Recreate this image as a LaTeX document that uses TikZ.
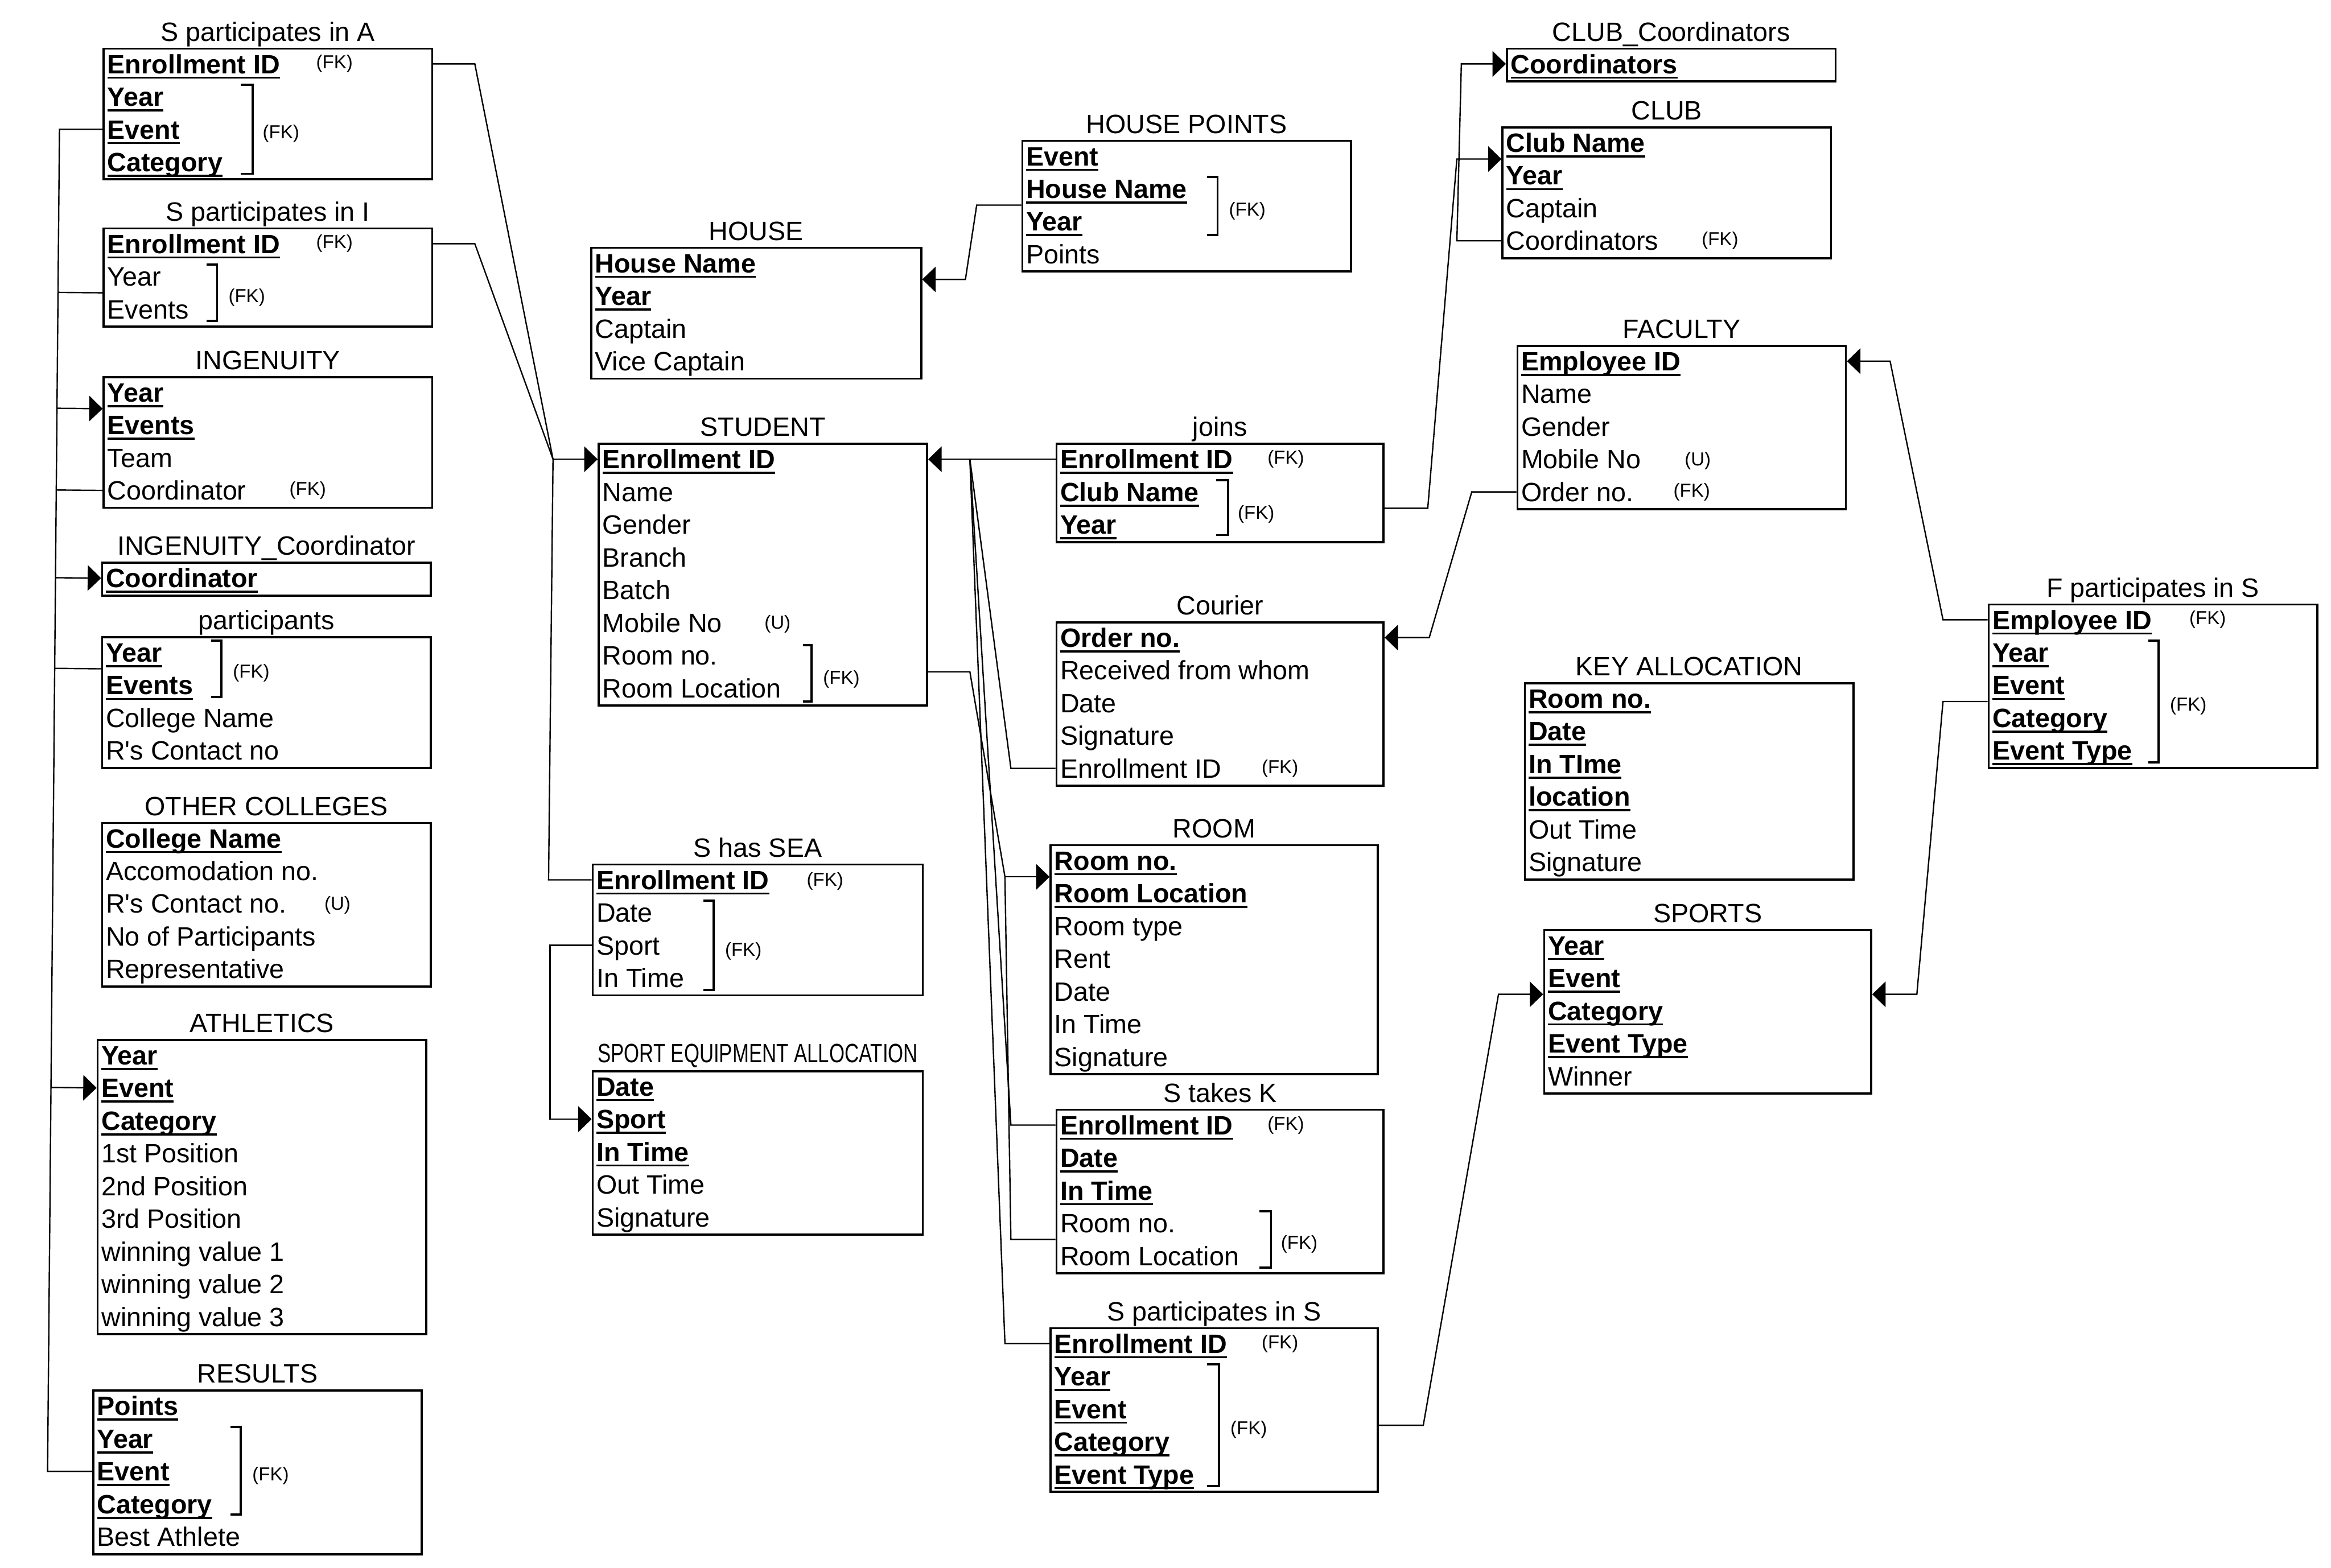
\documentclass[tikz,border=0pt]{standalone}
\usepackage{fontspec}
\setmainfont{Liberation Sans}
\usepackage{graphicx}
\usetikzlibrary{arrows.meta,calc}

\newcommand{\tblfont}{\fontsize{12.7}{15}\selectfont}
\newcommand{\notefont}{\fontsize{9}{11}\selectfont}
\newcommand{\px}{0.025cm}
\newsavebox{\pkbox}
% primary key: bold and underlined
\newcommand{\pk}[1]{\sbox\pkbox{\bfseries #1}\rlap{\rule[-2.5pt]{\wd\pkbox}{1pt}}\usebox\pkbox}

\tikzset{
  tbl/.style={rectangle,draw,line width=1pt,anchor=north west,inner sep=0pt},
  ttl/.style={anchor=base,inner sep=0pt,font=\tblfont,yshift=1.1mm},
  row/.style={anchor=west,inner sep=0pt,text height=4.2mm,text depth=1mm,
              font=\tblfont},
  note/.style={inner sep=0pt,font=\notefont},
  brk/.style={line width=1pt},
  con/.style={line width=0.65pt},
  arr/.style={con,-{Triangle[length=2.25mm,width=4.3mm]}}
}

\begin{document}
\begin{tikzpicture}[x=0.025cm,y=-0.025cm]
\useasboundingbox (0,0) rectangle (1568,1055);

% ---- left column
\node[tbl,minimum width=221*\px,minimum height=88*\px] (spA) at (69,32) {};
\node[ttl] (spA-t) at (spA.north) {S participates in A};
\foreach \t [count=\i] in {\pk{Enrollment ID},\pk{Year},\pk{Event},\pk{Category}}
  \node[row] (spA-\i) at ($(spA.north west)+(3,22*\i-11)$) {\t};
\node[note] (spA-n1) at (225,43) {(FK)};
\node[note] (spA-n2) at (189,90) {(FK)};
\draw[brk] (162,57) -| (170,117) -- (162,117);

\node[tbl,minimum width=221*\px,minimum height=66*\px] (spI) at (69,153) {};
\node[ttl] (spI-t) at (spI.north) {S participates in I};
\foreach \t [count=\i] in {\pk{Enrollment ID},Year,Events}
  \node[row] (spI-\i) at ($(spI.north west)+(3,22*\i-11)$) {\t};
\node[note] (spI-n1) at (225,164) {(FK)};
\node[note] (spI-n2) at (166,200) {(FK)};
\draw[brk] (139,178) -| (146,216) -- (139,216);

\node[tbl,minimum width=221*\px,minimum height=88*\px] (ing) at (69,253) {};
\node[ttl] (ing-t) at (ing.north) {INGENUITY};
\foreach \t [count=\i] in {\pk{Year},\pk{Events},Team,Coordinator}
  \node[row] (ing-\i) at ($(ing.north west)+(3,22*\i-11)$) {\t};
\node[note] (ing-n1) at (207,330) {(FK)};

\node[tbl,minimum width=221*\px,minimum height=22*\px] (ingc) at (68,378) {};
\node[ttl] (ingc-t) at (ingc.north) {INGENUITY\_Coordinator};
\node[row] (ingc-1) at ($(ingc.north west)+(3,11)$) {\pk{Coordinator}};

\node[tbl,minimum width=221*\px,minimum height=88*\px] (part) at (68,428) {};
\node[ttl] (part-t) at (part.north) {participants};
\foreach \t [count=\i] in {\pk{Year},\pk{Events},College Name,R\textquotesingle s Contact no}
  \node[row] (part-\i) at ($(part.north west)+(3,22*\i-11)$) {\t};
\node[note] (part-n1) at (169,453) {(FK)};
\draw[brk] (142,431) -| (149,469) -- (142,469);

\node[tbl,minimum width=221*\px,minimum height=110*\px] (oc) at (68,553) {};
\node[ttl] (oc-t) at (oc.north) {OTHER COLLEGES};
\foreach \t [count=\i] in {\pk{College Name},Accomodation no.,R\textquotesingle s Contact no.,
    No of Participants,Representative}
  \node[row] (oc-\i) at ($(oc.north west)+(3,22*\i-11)$) {\t};
\node[note] (oc-n1) at (227,609) {(U)};

\node[tbl,minimum width=221*\px,minimum height=198*\px] (ath) at (65,699) {};
\node[ttl] (ath-t) at (ath.north) {ATHLETICS};
\foreach \t [count=\i] in {\pk{Year},\pk{Event},\pk{Category},1st Position,2nd Position,
    3rd Position,winning value 1,winning value 2,winning value 3}
  \node[row] (ath-\i) at ($(ath.north west)+(3,22*\i-11)$) {\t};

\node[tbl,minimum width=221*\px,minimum height=110*\px] (res) at (62,935) {};
\node[ttl] (res-t) at (res.north) {RESULTS};
\foreach \t [count=\i] in {\pk{Points},\pk{Year},\pk{Event},\pk{Category},Best Athlete}
  \node[row] (res-\i) at ($(res.north west)+(3,22*\i-11)$) {\t};
\node[note] (res-n1) at (182,993) {(FK)};
\draw[brk] (155,960) -| (162,1019) -- (155,1019);

% ---- second column
\node[tbl,minimum width=222*\px,minimum height=88*\px] (house) at (397,166) {};
\node[ttl] (house-t) at (house.north) {HOUSE};
\foreach \t [count=\i] in {\pk{House Name},\pk{Year},Captain,Vice Captain}
  \node[row] (house-\i) at ($(house.north west)+(3,22*\i-11)$) {\t};

\node[tbl,minimum width=221*\px,minimum height=176*\px] (student) at (402,298) {};
\node[ttl] (student-t) at (student.north) {STUDENT};
\foreach \t [count=\i] in {\pk{Enrollment ID},Name,Gender,Branch,Batch,Mobile No,
    Room no.,Room Location}
  \node[row] (student-\i) at ($(student.north west)+(3,22*\i-11)$) {\t};
\node[note] (student-n1) at (523,420) {(U)};
\node[note] (student-n2) at (566,457) {(FK)};
\draw[brk] (540,434) -| (546,472) -- (540,472);

\node[tbl,minimum width=222*\px,minimum height=88*\px] (shs) at (398,581) {};
\node[ttl] (shs-t) at (shs.north) {S has SEA};
\foreach \t [count=\i] in {\pk{Enrollment ID},Date,Sport,In Time}
  \node[row] (shs-\i) at ($(shs.north west)+(3,22*\i-11)$) {\t};
\node[note] (shs-n1) at (555,593) {(FK)};
\node[note] (shs-n2) at (500,640) {(FK)};
\draw[brk] (473,606) -| (480,666) -- (473,666);

\node[tbl,minimum width=222*\px,minimum height=110*\px] (sea) at (398,720) {};
\node[ttl,yshift=0.15mm] (sea-t) at (sea.north)
  {\scalebox{0.745}[1]{SPORT EQUIPMENT ALLOCATION}};
\foreach \t [count=\i] in {\pk{Date},\pk{Sport},\pk{In Time},Out Time,Signature}
  \node[row] (sea-\i) at ($(sea.north west)+(3,22*\i-11)$) {\t};

% ---- third column
\node[tbl,minimum width=221*\px,minimum height=88*\px] (hp) at (687,94) {};
\node[ttl] (hp-t) at (hp.north) {HOUSE POINTS};
\foreach \t [count=\i] in {\pk{Event},\pk{House Name},\pk{Year},Points}
  \node[row] (hp-\i) at ($(hp.north west)+(3,22*\i-11)$) {\t};
\node[note] (hp-n1) at (839,142) {(FK)};
\draw[brk] (812,119) -| (819,158) -- (812,158);

\node[tbl,minimum width=220*\px,minimum height=66*\px] (joins) at (710,298) {};
\node[ttl] (joins-t) at (joins.north) {joins};
\foreach \t [count=\i] in {\pk{Enrollment ID},\pk{Club Name},\pk{Year}}
  \node[row] (joins-\i) at ($(joins.north west)+(3,22*\i-11)$) {\t};
\node[note] (joins-n1) at (865,309) {(FK)};
\node[note] (joins-n2) at (845,346) {(FK)};
\draw[brk] (818,323) -| (826,360) -- (818,360);

\node[tbl,minimum width=220*\px,minimum height=110*\px] (courier) at (710,418) {};
\node[ttl] (courier-t) at (courier.north) {Courier};
\foreach \t [count=\i] in {\pk{Order no.},Received from whom,Date,Signature,Enrollment ID}
  \node[row] (courier-\i) at ($(courier.north west)+(3,22*\i-11)$) {\t};
\node[note] (courier-n1) at (861,517) {(FK)};

\node[tbl,minimum width=220*\px,minimum height=154*\px] (room) at (706,568) {};
\node[ttl] (room-t) at (room.north) {ROOM};
\foreach \t [count=\i] in {\pk{Room no.},\pk{Room Location},Room type,Rent,Date,
    In Time,Signature}
  \node[row] (room-\i) at ($(room.north west)+(3,22*\i-11)$) {\t};

\node[tbl,minimum width=220*\px,minimum height=110*\px] (stk) at (710,746) {};
\node[ttl] (stk-t) at (stk.north) {S takes K};
\foreach \t [count=\i] in {\pk{Enrollment ID},\pk{Date},\pk{In Time},Room no.,Room Location}
  \node[row] (stk-\i) at ($(stk.north west)+(3,22*\i-11)$) {\t};
\node[note] (stk-n1) at (865,757) {(FK)};
\node[note] (stk-n2) at (874,837) {(FK)};
\draw[brk] (847,815) -| (855,853) -- (847,853);

\node[tbl,minimum width=220*\px,minimum height=110*\px] (sps) at (706,893) {};
\node[ttl] (sps-t) at (sps.north) {S participates in S};
\foreach \t [count=\i] in {\pk{Enrollment ID},\pk{Year},\pk{Event},\pk{Category},
    \pk{Event Type}}
  \node[row] (sps-\i) at ($(sps.north west)+(3,22*\i-11)$) {\t};
\node[note] (sps-n1) at (861,904) {(FK)};
\node[note] (sps-n2) at (840,962) {(FK)};
\draw[brk] (812,918) -| (820,1000) -- (812,1000);

% ---- fourth column
\node[tbl,minimum width=221*\px,minimum height=22*\px] (clubc) at (1013,32) {};
\node[ttl] (clubc-t) at (clubc.north) {CLUB\_Coordinators};
\node[row] (clubc-1) at ($(clubc.north west)+(3,11)$) {\pk{Coordinators}};

\node[tbl,minimum width=221*\px,minimum height=88*\px] (club) at (1010,85) {};
\node[ttl] (club-t) at (club.north) {CLUB};
\foreach \t [count=\i] in {\pk{Club Name},\pk{Year},Captain,Coordinators}
  \node[row] (club-\i) at ($(club.north west)+(3,22*\i-11)$) {\t};
\node[note] (club-n1) at (1157,162) {(FK)};

\node[tbl,minimum width=221*\px,minimum height=110*\px] (fac) at (1020,232) {};
\node[ttl] (fac-t) at (fac.north) {FACULTY};
\foreach \t [count=\i] in {\pk{Employee ID},Name,Gender,Mobile No,Order no.}
  \node[row] (fac-\i) at ($(fac.north west)+(3,22*\i-11)$) {\t};
\node[note] (fac-n1) at (1142,310) {(U)};
\node[note] (fac-n2) at (1138,331) {(FK)};

\node[tbl,minimum width=221*\px,minimum height=132*\px] (key) at (1025,459) {};
\node[ttl] (key-t) at (key.north) {KEY ALLOCATION};
\foreach \t [count=\i] in {\pk{Room no.},\pk{Date},\pk{In TIme},\pk{location},
    Out Time,Signature}
  \node[row] (key-\i) at ($(key.north west)+(3,22*\i-11)$) {\t};

\node[tbl,minimum width=220*\px,minimum height=110*\px] (sports) at (1038,625) {};
\node[ttl] (sports-t) at (sports.north) {SPORTS};
\foreach \t [count=\i] in {\pk{Year},\pk{Event},\pk{Category},\pk{Event Type},Winner}
  \node[row] (sports-\i) at ($(sports.north west)+(3,22*\i-11)$) {\t};

\node[tbl,minimum width=221*\px,minimum height=110*\px] (fps) at (1337,406) {};
\node[ttl] (fps-t) at (fps.north) {F participates in S};
\foreach \t [count=\i] in {\pk{Employee ID},\pk{Year},\pk{Event},\pk{Category},
    \pk{Event Type}}
  \node[row] (fps-\i) at ($(fps.north west)+(3,22*\i-11)$) {\t};
\node[note] (fps-n1) at (1485,417) {(FK)};
\node[note] (fps-n2) at (1472,475) {(FK)};
\draw[brk] (1445,431) -| (1452,513) -- (1445,513);

% ---- helper points between rows
\coordinate (spI-m) at ($(spI-2)!.5!(spI-3)$);
\coordinate (ing-m) at ($(ing-1)!.5!(ing-2)$);
\coordinate (part-m) at ($(part-1)!.5!(part-2)$);
\coordinate (hp-m) at ($(hp-2)!.5!(hp-3)$);
\coordinate (house-m) at ($(house-1)!.5!(house-2)$);
\coordinate (student-m) at ($(student-7)!.5!(student-8)$);
\coordinate (room-m) at ($(room-1)!.5!(room-2)$);
\coordinate (stk-m) at ($(stk-4)!.5!(stk-5)$);
\coordinate (joins-m) at ($(joins-2)!.5!(joins-3)$);
\coordinate (club-m) at ($(club-1)!.5!(club-2)$);
\coordinate (fps-m) at ($(fps-3)!.5!(fps-4)$);
\coordinate (sports-m) at ($(sports-2)!.5!(sports-3)$);
\coordinate (sps-m) at ($(sps-3)!.5!(sps-4)$);

% ---- left trunk
\coordinate (tA) at ($(spA.west |- spA-3)+(-29,0)$);
\coordinate (tB) at ($(res.west |- res-3)+(-30,0)$);
\draw[con] (spA.west |- spA-3) -- (tA) -- (tB) -- (res.west |- res-3);
\draw[con] ($(tA)!(spI.west |- spI-m)!(tB)$) -- (spI.west |- spI-m);
\draw[arr] ($(tA)!(ing.west |- ing-m)!(tB)$) -- (ing.west |- ing-m);
\draw[con] ($(tA)!(ing.west |- ing-4)!(tB)$) -- (ing.west |- ing-4);
\draw[arr] ($(tA)!(ingc.west |- ingc-1)!(tB)$) -- (ingc.west |- ingc-1);
\draw[con] ($(tA)!(part.west |- part-m)!(tB)$) -- (part.west |- part-m);
\draw[arr] ($(tA)!(ath.west |- ath-2)!(tB)$) -- (ath.west |- ath-2);

% ---- into STUDENT from the left
\coordinate (jL) at ($(student.west |- student-1)+(-30,0)$);
\draw[con] (spA.east |- spA-1) -- ++(28,0) -- (jL);
\draw[con] (spI.east |- spI-1) -- ++(28,0) -- (jL);
\draw[con] (shs.west |- shs-1) -- ++(-29,0) -- (jL);
\draw[arr] (jL) -- (student.west |- student-1);
\draw[arr] (shs.west |- shs-3) -- ++(-28,0) |- (sea.west |- sea-2);

\draw[arr] (hp.west |- hp-m) -- ++(-30,0)
  -- ($(house.east |- house-m)+(29,0)$) -- (house.east |- house-m);

% ---- into STUDENT from the right
\coordinate (jR) at ($(student.east |- student-1)+(28,0)$);
\draw[arr] (joins.west |- joins-1) -- (student.east |- student-1);
\draw[con] (courier.west |- courier-5) -- ++(-30,0) -- (jR);
\draw[con] (stk.west |- stk-1) -- ++(-30,0) -- (jR);
\draw[con] (sps.west |- sps-1) -- ++(-30,0) -- (jR);

% ---- rooms
\coordinate (jM) at ($(room.west |- room-m)+(-30,0)$);
\draw[con] (student.east |- student-m) -- ++(28,0) -- (jM);
\draw[con] (stk.west |- stk-m) -- ++(-30,0) -- (jM);
\draw[arr] (jM) -- (room.west |- room-m);

% ---- right side
\draw[arr] (joins.east |- joins-m) -- ++(29,0)
  -- ($(club.west |- club-m)+(-30,0)$) -- (club.west |- club-m);
\draw[arr] (club.west |- club-4) -- ++(-30,0)
  -- ($(clubc.west |- clubc-1)+(-30,0)$) -- (clubc.west |- clubc-1);
\draw[arr] (fac.west |- fac-5) -- ++(-30,0)
  -- ($(courier.east |- courier-1)+(30,0)$) -- (courier.east |- courier-1);
\draw[arr] (fps.west |- fps-1) -- ++(-30,0)
  -- ($(fac.east |- fac-1)+(29,0)$) -- (fac.east |- fac-1);
\draw[arr] (fps.west |- fps-m) -- ++(-30,0)
  -- ($(sports.east |- sports-m)+(30,0)$) -- (sports.east |- sports-m);
\draw[arr] (sps.east |- sps-m) -- ++(30,0)
  -- ($(sports.west |- sports-m)+(-30,0)$) -- (sports.west |- sports-m);

\end{tikzpicture}
\end{document}
